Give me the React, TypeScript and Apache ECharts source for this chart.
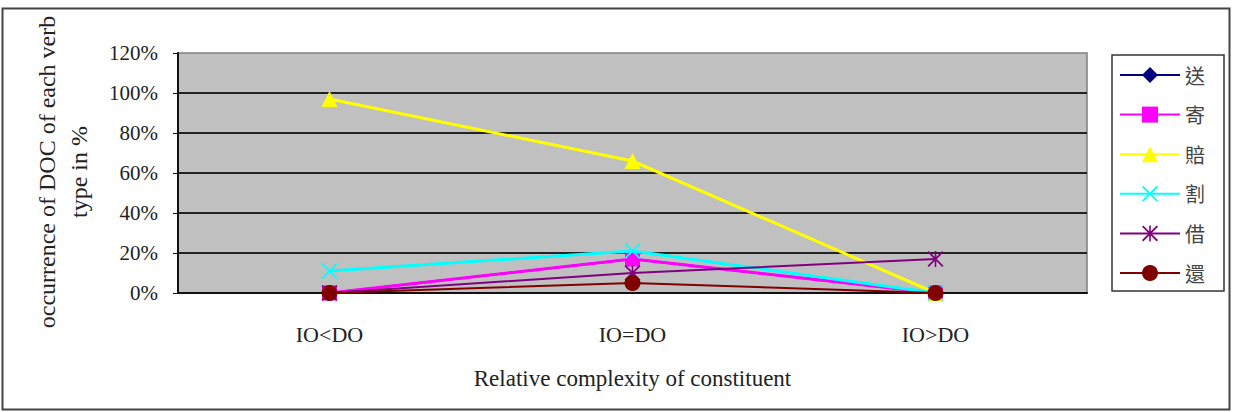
import React, { useEffect, useRef } from "react";
import * as echarts from "echarts";

const categories = ["IO<DO", "IO=DO", "IO>DO"];
const yTicks = [0, 0.2, 0.4, 0.6, 0.8, 1.0, 1.2];

const verbs = ["送", "寄", "賠", "割", "借", "還"];
const songValues = [0, 0.17, 0];
const jiValues = [0, 0.17, 0];
const peiValues = [0.97, 0.66, 0];
const geValues = [0.11, 0.21, 0];
const jieValues = [0, 0.1, 0.17];
const huanValues = [0, 0.05, 0];

const seriesValues = [songValues, jiValues, peiValues, geValues, jieValues, huanValues];
const seriesColors = ["#000080", "#ff00ff", "#ffff00", "#00ffff", "#800080", "#800000"];

// X-shaped and asterisk-shaped markers built from filled bars
const crossPath =
  "path://M0,1.6L1.6,0L20,18.4L18.4,20Z M18.4,0L20,1.6L1.6,20L0,18.4Z";
const starPath =
  "path://M0,1.6L1.6,0L20,18.4L18.4,20Z M18.4,0L20,1.6L1.6,20L0,18.4Z M9,0L11,0L11,20L9,20Z";

const symbols = ["diamond", "rect", "triangle", crossPath, starPath, "circle"];
const symbolSizes = [15, 15, 16, 16, 16, 16];
const lineWidths = [2, 3, 3, 3, 2, 2];

const serif = "'Liberation Serif', 'Times New Roman', serif";

export default function App() {
  const ref = useRef<HTMLDivElement>(null);

  useEffect(() => {
    document.body.style.margin = "0";
    if (!ref.current) return;
    const chart = echarts.init(ref.current, null, { renderer: "svg" });

    chart.setOption({
      animation: false,
      backgroundColor: "#ffffff",
      graphic: [
        {
          type: "rect",
          shape: { x: 2.5, y: 8.5, width: 1227, height: 401 },
          style: { fill: "none", stroke: "#444", lineWidth: 2 },
          silent: true,
        },
        {
          type: "text",
          x: 63,
          y: 172,
          rotation: Math.PI / 2,
          style: {
            text: "occurrence of DOC of each verb\ntype in %",
            font: "24px 'Liberation Serif', serif",
            lineHeight: 32,
            fill: "#222",
            align: "center",
            verticalAlign: "middle",
          },
        },
      ],
      legend: {
        orient: "vertical",
        left: 1112,
        top: 55,
        padding: [10, 19, 8, 7],
        itemWidth: 60,
        itemHeight: 20,
        itemGap: 19.6,
        borderColor: "#333",
        borderWidth: 1.5,
        data: verbs,
        textStyle: {
          fontFamily: "'Noto Sans CJK TC', sans-serif",
          fontSize: 20,
          lineHeight: 20,
          color: "#444",
        },
      },
      grid: {
        left: 178,
        top: 53,
        width: 909,
        height: 240,
        show: true,
        backgroundColor: "#c0c0c0",
        borderColor: "#808080",
        borderWidth: 1.5,
      },
      xAxis: {
        type: "category",
        data: categories,
        boundaryGap: true,
        axisLine: { lineStyle: { color: "#111", width: 2 } },
        axisTick: { inside: true, length: 6, lineStyle: { color: "#111" } },
        axisLabel: {
          margin: 30,
          fontFamily: serif,
          fontSize: 22,
          color: "#222",
        },
        name: "Relative complexity of constituent",
        nameLocation: "middle",
        nameGap: 74,
        nameTextStyle: { fontFamily: serif, fontSize: 23, color: "#222" },
      },
      yAxis: {
        type: "value",
        min: yTicks[0],
        max: yTicks[yTicks.length - 1],
        interval: 0.2,
        axisLine: { show: true, lineStyle: { color: "#111", width: 2 } },
        axisTick: { show: true, length: 5, lineStyle: { color: "#111" } },
        axisLabel: {
          margin: 20,
          fontFamily: serif,
          fontSize: 21,
          color: "#222",
          formatter: (v: number) => `${Math.round(v * 100)}%`,
        },
        splitLine: {
          show: true,
          showMinLine: false,
          showMaxLine: false,
          lineStyle: { color: "#222", width: 2 },
        },
      },
      series: verbs.map((name, i) => ({
        name,
        type: "line",
        data: seriesValues[i],
        symbol: symbols[i],
        symbolSize: symbolSizes[i],
        showAllSymbol: true,
        lineStyle: { color: seriesColors[i], width: lineWidths[i] },
        itemStyle: { color: seriesColors[i], borderWidth: 0 },
        z: 2 + i,
      })),
    });

    return () => chart.dispose();
  }, []);

  return <div ref={ref} style={{ width: 1237, height: 412 }} />;
}
